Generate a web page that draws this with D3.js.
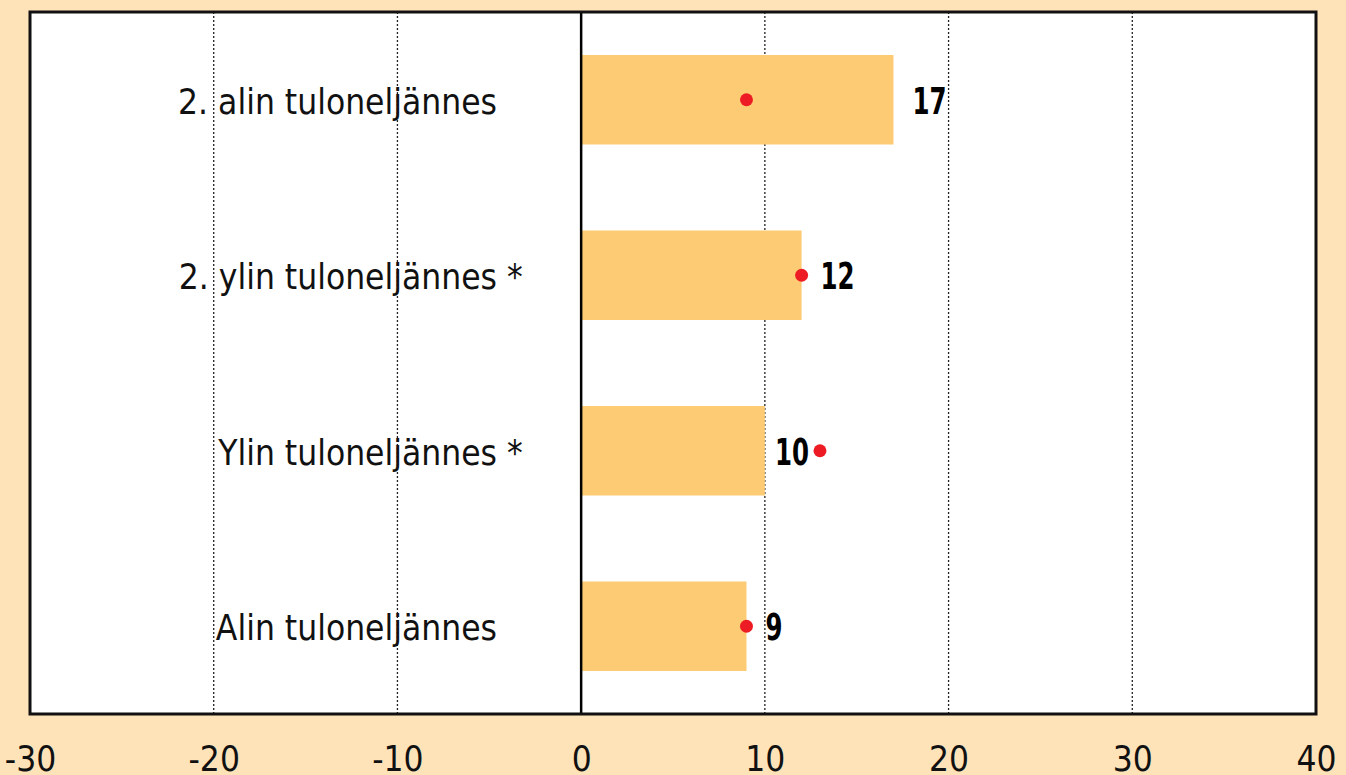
<!DOCTYPE html>
<html>
<head>
<meta charset="utf-8">
<script src="https://cdn.jsdelivr.net/npm/d3@7"></script>
<style>
  body { margin: 0; background: #fee3b9; }
  text { font-family: "Liberation Sans Narrow", "DejaVu Sans Condensed", "Roboto", sans-serif; }
</style>
</head>
<body>
<div id="root"></div>
<script>
let categories = ['2. alin tuloneljännes', '2. ylin tuloneljännes', 'Ylin tuloneljännes', 'Alin tuloneljännes'];
let starred = [false, true, true, false];
let barValues = [17, 12, 10, 9];
let dotValues = [9, 12, 13, 9];
let tickValues = [-30, -20, -10, 0, 10, 20, 30, 40];

let width = 1346, height = 775;
let plot = { left: 30, right: 1316, top: 12, bottom: 714 };

let svg = d3.select('#root').append('svg')
    .attr('width', width)
    .attr('height', height);

svg.append('rect')
    .attr('width', width)
    .attr('height', height)
    .attr('fill', '#fee3b9');

let x = d3.scaleLinear().domain([-30, 40]).range([plot.left, plot.right]);
let y = d3.scaleBand().domain(categories).range([plot.top, plot.bottom]).paddingInner(0.49).paddingOuter(0.245);

svg.append('rect')
    .attr('x', plot.left)
    .attr('y', plot.top)
    .attr('width', plot.right - plot.left)
    .attr('height', plot.bottom - plot.top)
    .attr('fill', '#fff');

// dotted grid
svg.append('g')
    .selectAll('line')
    .data(tickValues.filter(t => t !== 0 && t !== -30 && t !== 40))
    .join('line')
    .attr('x1', d => x(d)).attr('x2', d => x(d))
    .attr('y1', plot.top).attr('y2', plot.bottom)
    .attr('stroke', '#222')
    .attr('stroke-width', 1.3)
    .attr('stroke-dasharray', '2,2');

// bars
svg.append('g')
    .selectAll('rect')
    .data(categories)
    .join('rect')
    .attr('x', x(0))
    .attr('y', d => y(d))
    .attr('width', (d, i) => x(barValues[i]) - x(0))
    .attr('height', y.bandwidth())
    .attr('fill', '#fccb74');

// zero line
svg.append('line')
    .attr('x1', x(0)).attr('x2', x(0))
    .attr('y1', plot.top).attr('y2', plot.bottom)
    .attr('stroke', '#000')
    .attr('stroke-width', 2.5);

// category labels
let labels = svg.append('g')
    .selectAll('g')
    .data(categories)
    .join('g');

labels.append('text')
    .attr('x', 497)
    .attr('y', d => y(d) + y.bandwidth() / 2 + 14)
    .attr('text-anchor', 'end')
    .attr('font-size', 35)
    .attr('fill', '#111')
    .text(d => d);

labels.filter((d, i) => starred[i])
    .append('text')
    .attr('x', 497)
    .attr('y', d => y(d) + y.bandwidth() / 2 + 14)
    .attr('font-size', 35)
    .attr('fill', '#111')
    .text('\u00a0*');

// value labels, kept clear of a dot sitting just past the bar end
svg.append('g')
    .selectAll('text')
    .data(categories)
    .join('text')
    .attr('x', (d, i) => {
        let end = x(barValues[i]);
        let w = String(barValues[i]).length * 17;
        let dot = x(dotValues[i]);
        if (dot > end) return Math.min(end + 19, dot - 11 - w);
        return end + 19;
    })
    .attr('y', d => y(d) + y.bandwidth() / 2 + 14)
    .attr('font-size', 37)
    .attr('font-weight', 'bold')
    .attr('fill', '#000')
    .attr('textLength', (d, i) => String(barValues[i]).length * 17)
    .attr('lengthAdjust', 'spacingAndGlyphs')
    .text((d, i) => barValues[i]);

// red dots
svg.append('g')
    .selectAll('circle')
    .data(categories)
    .join('circle')
    .attr('cx', (d, i) => x(dotValues[i]))
    .attr('cy', d => y(d) + y.bandwidth() / 2)
    .attr('r', 6.5)
    .attr('fill', '#ed1c24');

// frame
svg.append('rect')
    .attr('x', plot.left)
    .attr('y', plot.top)
    .attr('width', plot.right - plot.left)
    .attr('height', plot.bottom - plot.top)
    .attr('fill', 'none')
    .attr('stroke', '#111')
    .attr('stroke-width', 3);

// x axis labels
let axis = svg.append('g')
    .attr('transform', `translate(0,${plot.bottom})`)
    .call(d3.axisBottom(x).tickValues(tickValues).tickSize(0).tickPadding(0).tickFormat(d => String(d)));
axis.select('.domain').remove();
axis.selectAll('text')
    .attr('dy', null)
    .attr('y', 57)
    .attr('font-size', 35)
    .attr('font-family', '"Liberation Sans Narrow", "DejaVu Sans Condensed", sans-serif')
    .attr('fill', '#111');
</script>
</body>
</html>
